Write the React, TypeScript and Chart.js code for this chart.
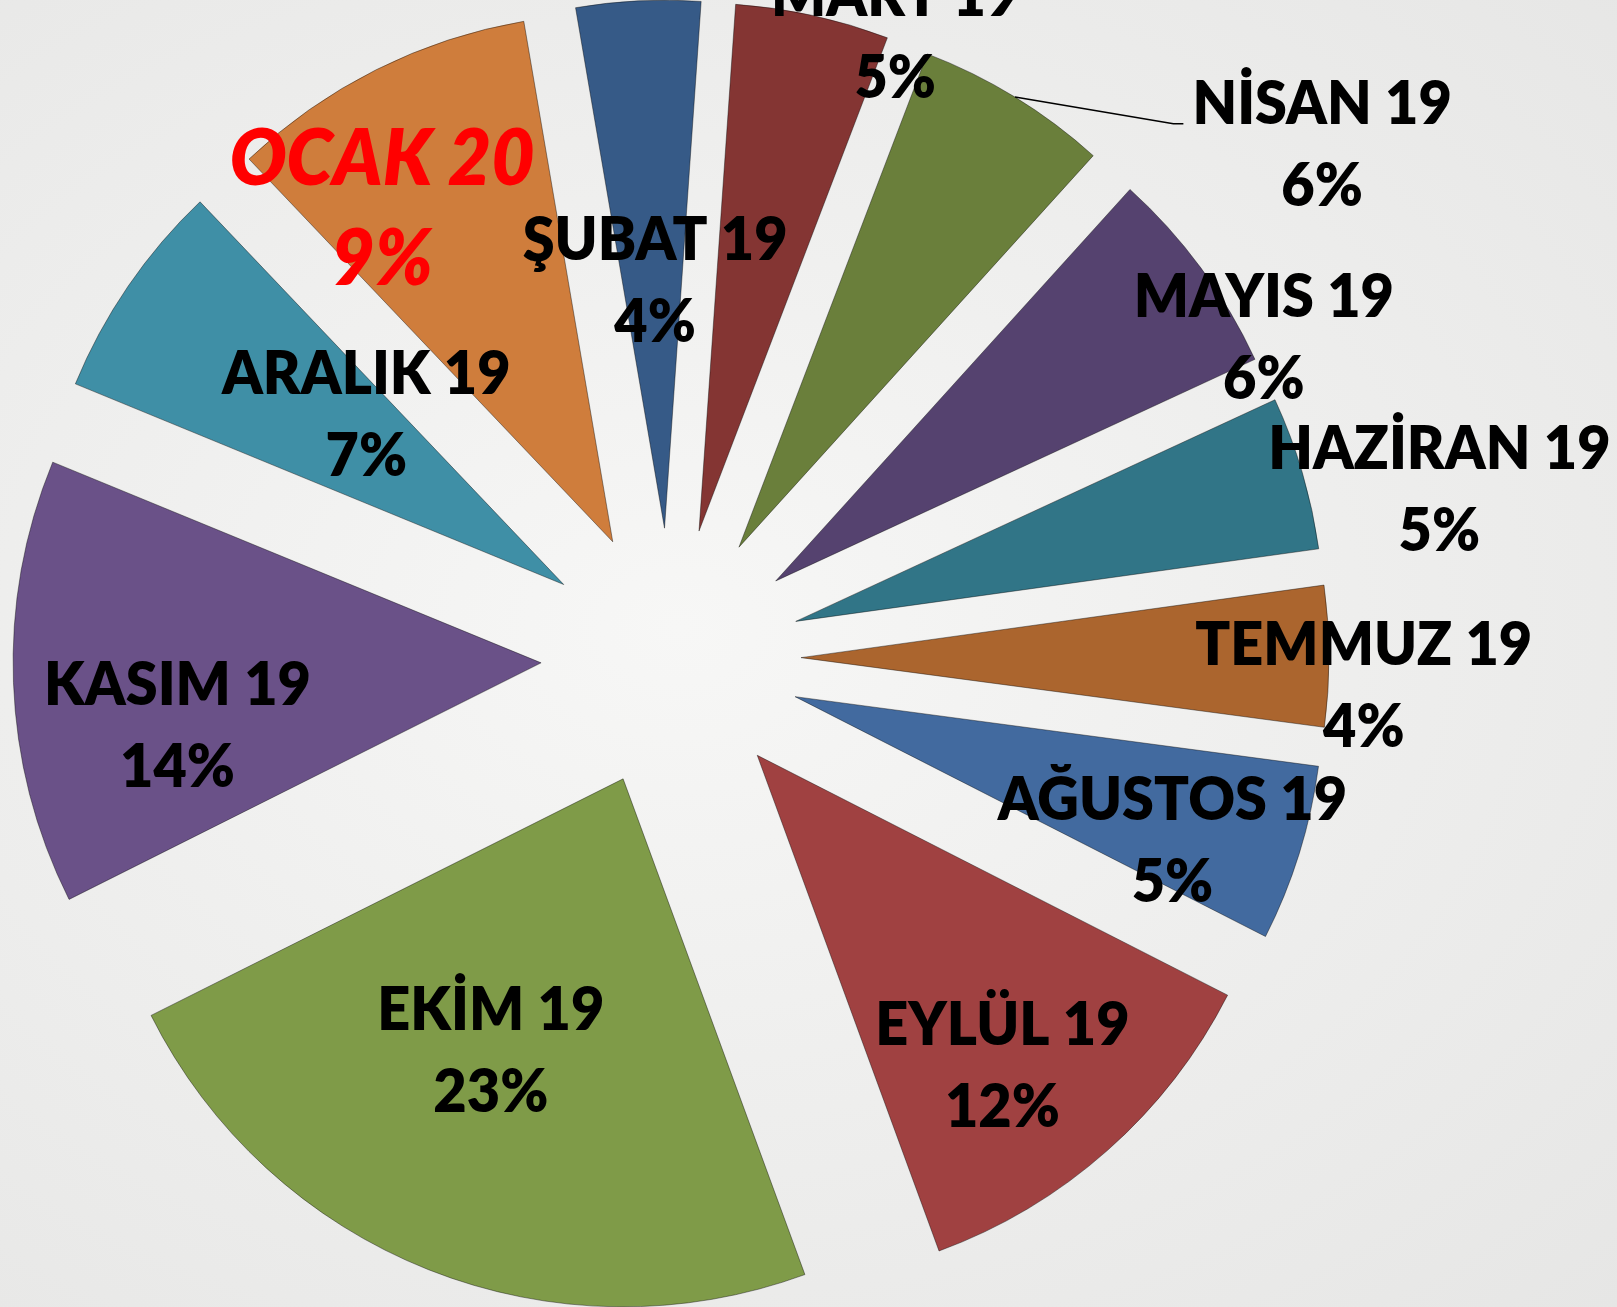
import React, { useEffect, useRef } from 'react';
import { Chart, registerables } from 'chart.js';

Chart.register(...registerables);

// ---- data (percent of total) ----
const categories = [
  'ŞUBAT 19', 'MART 19', 'NİSAN 19', 'MAYIS 19', 'HAZİRAN 19', 'TEMMUZ 19',
  'AĞUSTOS 19', 'EYLÜL 19', 'EKİM 19', 'KASIM 19', 'ARALIK 19', 'OCAK 20',
];
const values = [3.8, 4.7, 5.9, 6.4, 4.7, 4.3, 5.4, 11.9, 23.2, 13.6, 6.7, 9.4];
const highlighted = 'OCAK 20';

// ---- style ----
const sliceColors = [
  '#365a87', '#843533', '#6a7f3b', '#55426f', '#317587', '#ab652e',
  '#426a9f', '#a04141', '#7f9b48', '#6a5188', '#3f8fa6', '#cf7d3c',
];
// label placement: distance from centre (fraction of radius) and angular nudge (deg)
const labelDistance = [0.718, 1.254, 1.572, 1.277, 1.49, 1.313, 1.01, 0.994, 0.816, 0.943, 0.74, 1.015];
const labelAngleShift = [0.46, 7.35, 20.15, 7.9, 3.95, 2.35, 2.6, 2.4, 3.1, -5.5, 4.35, -6.0];
const leaderLines = ['NİSAN 19'];

const EXPLODE = 130;
const RADIUS = 528;
const SX = 0.96;
const FONT = 'Lato, "Open Sans", sans-serif';
const WEIGHT = 800;

const explodePlugin = {
  id: 'explodeSlices',
  beforeDatasetDraw(chart: any, args: any) {
    args.meta.data.forEach((arc: any) => {
      if (arc.__exploded) return;
      const orig = arc.draw;
      arc.draw = function (ctx: CanvasRenderingContext2D, area: any) {
        const mid = (this.startAngle + this.endAngle) / 2;
        ctx.save();
        ctx.translate(Math.cos(mid) * EXPLODE, Math.sin(mid) * EXPLODE);
        orig.call(this, ctx, area);
        ctx.restore();
      };
      arc.__exploded = true;
    });
  },
};

const labelsPlugin = {
  id: 'sliceLabels',
  afterDatasetsDraw(chart: any) {
    const meta = chart.getDatasetMeta(0);
    const ctx: CanvasRenderingContext2D = chart.ctx;
    const data: number[] = chart.data.datasets[0].data;
    const total = data.reduce((a, b) => a + b, 0);
    meta.data.forEach((arc: any, i: number) => {
      const name = chart.data.labels[i] as string;
      const pct = Math.round((data[i] / total) * 100) + '%';
      const mid = (arc.startAngle + arc.endAngle) / 2;
      const ang = mid + (labelAngleShift[i] * Math.PI) / 180;
      const d = labelDistance[i] * arc.outerRadius;
      const cx = arc.x + Math.cos(ang) * d;
      const cy = arc.y + Math.sin(ang) * d;
      const hi = name === highlighted;
      const size = hi ? 78 : 60;
      const lineH = hi ? 100 : 82;
      const cap = size * 0.717;
      const b1 = cy - lineH / 2 + cap / 2;
      const b2 = b1 + lineH;
      ctx.save();
      ctx.font = `${hi ? 'italic ' : ''}${WEIGHT} ${size}px ${FONT}`;
      ctx.fillStyle = hi ? '#ff0000' : '#000000';
      ctx.textAlign = 'center';
      ctx.textBaseline = 'alphabetic';
      const w = ctx.measureText(name).width * SX;
      ctx.translate(cx, 0);
      ctx.scale(SX, 1);
      ctx.fillText(name, 0, b1);
      ctx.fillText(pct, 0, b2);
      ctx.restore();

      if (leaderLines.includes(name)) {
        const sx = arc.x + Math.cos(mid) * (EXPLODE + arc.outerRadius);
        const sy = arc.y + Math.sin(mid) * (EXPLODE + arc.outerRadius);
        const left = cx - w / 2;
        ctx.save();
        ctx.strokeStyle = '#000';
        ctx.lineWidth = 1.5;
        ctx.beginPath();
        ctx.moveTo(sx, sy);
        ctx.lineTo(left - 19, b1);
        ctx.lineTo(left - 9, b1);
        ctx.stroke();
        ctx.restore();
      }
    });
  },
};

export default function App() {
  const ref = useRef<HTMLCanvasElement | null>(null);
  useEffect(() => {
    if (!ref.current) return;
    const chart = new Chart(ref.current, {
      type: 'pie',
      data: {
        labels: categories,
        datasets: [
          {
            data: values,
            backgroundColor: sliceColors,
            borderColor: 'rgba(0,0,0,0.4)',
            borderWidth: 1,
          },
        ],
      },
      options: {
        animation: false,
        responsive: false,
        maintainAspectRatio: false,
        rotation: -9.7,
        radius: RADIUS,
        layout: { padding: { left: 0, right: 275, top: 9, bottom: 0 } },
        plugins: {
          legend: { display: false },
          tooltip: { enabled: false },
        },
        events: [],
      } as any,
      plugins: [explodePlugin, labelsPlugin],
    });
    return () => chart.destroy();
  }, []);

  return (
    <div
      style={{
        position: 'fixed',
        left: 0,
        top: 0,
        width: 1617,
        height: 1307,
        overflow: 'hidden',
        background:
          'radial-gradient(ellipse at 42% 48%, #f7f7f6 0%, #efefee 45%, #e6e6e5 100%)',
      }}
    >
      <canvas ref={ref} width={1617} height={1307} style={{ display: 'block' }} />
    </div>
  );
}
